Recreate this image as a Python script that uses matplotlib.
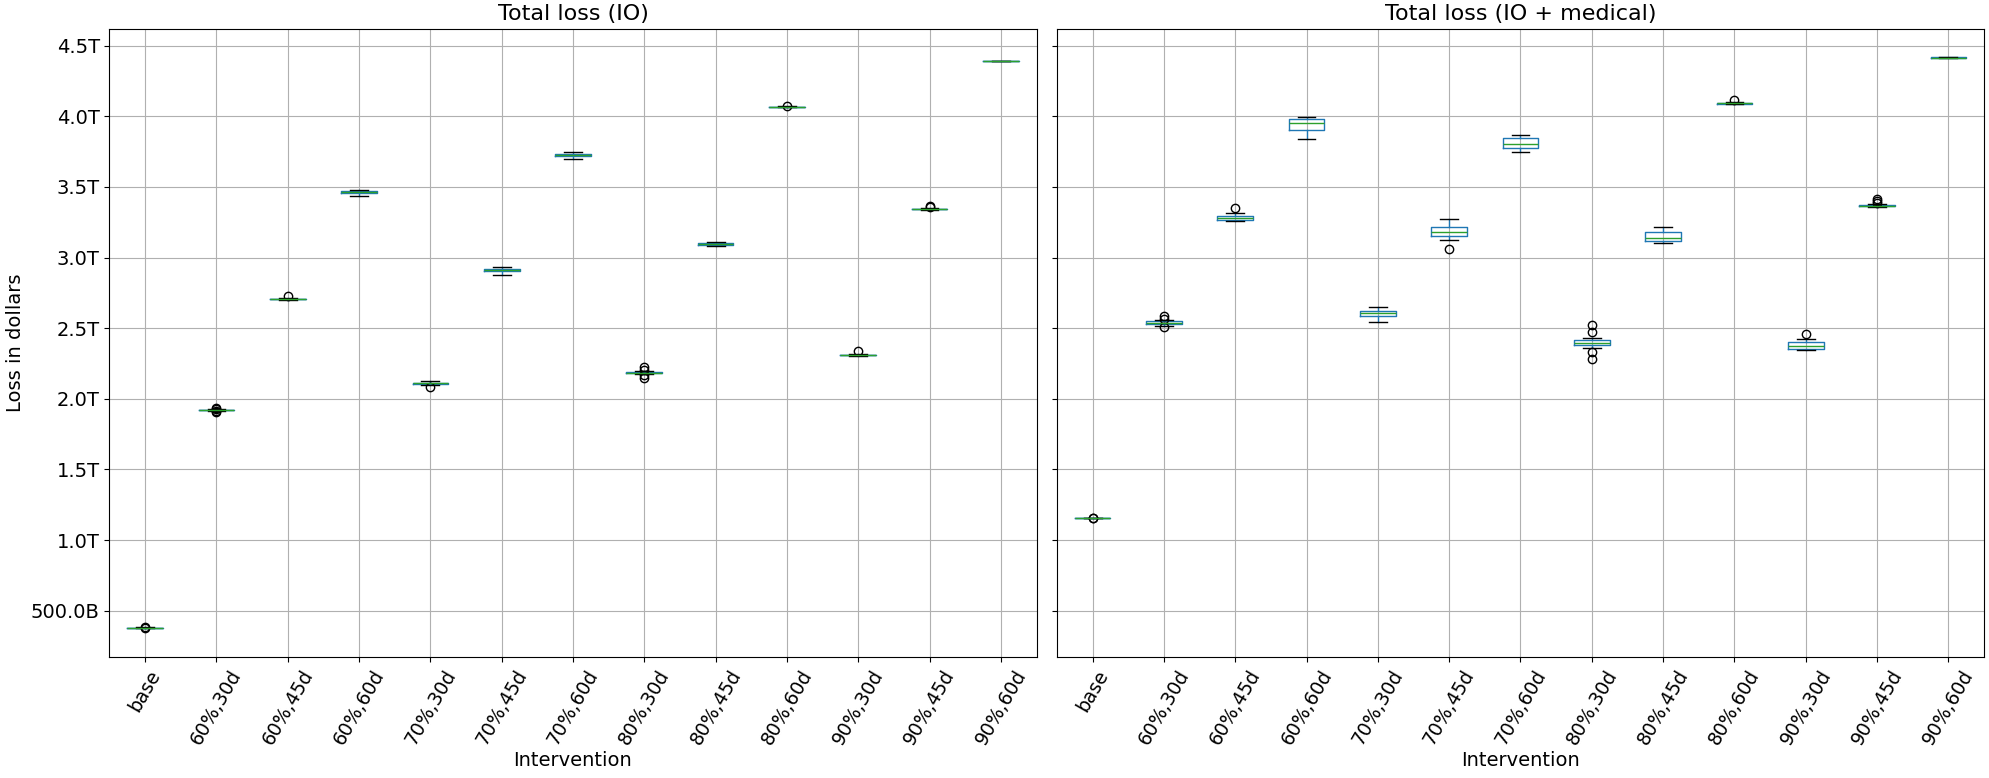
import matplotlib
matplotlib.use("Agg")
import matplotlib.pyplot as plt
from matplotlib.ticker import FuncFormatter

# ---- data (values in trillions of dollars) ----
labels = ["base", "60%,30d", "60%,45d", "60%,60d", "70%,30d", "70%,45d", "70%,60d",
          "80%,30d", "80%,45d", "80%,60d", "90%,30d", "90%,45d", "90%,60d"]

# Total loss (IO)
io_med = [0.380, 1.922, 2.705, 3.462, 2.110, 2.910, 3.725, 2.184, 3.096, 4.066, 2.310, 3.343, 4.392]
io_q1 = [0.379, 1.920, 2.703, 3.456, 2.107, 2.903, 3.719, 2.180, 3.091, 4.064, 2.307, 3.340, 4.391]
io_q3 = [0.381, 1.924, 2.707, 3.470, 2.114, 2.917, 3.731, 2.188, 3.101, 4.068, 2.313, 3.346, 4.393]
io_lo = [0.378, 1.917, 2.700, 3.432, 2.100, 2.874, 3.700, 2.172, 3.082, 4.062, 2.303, 3.336, 4.390]
io_hi = [0.382, 1.927, 2.711, 3.478, 2.127, 2.935, 3.745, 2.196, 3.108, 4.070, 2.318, 3.351, 4.394]
io_fl = [[0.383, 0.377], [1.910, 1.915, 1.930, 1.935], [2.728], [], [2.087], [], [],
         [2.228, 2.207, 2.165, 2.146], [], [4.069], [2.337], [3.362, 3.355], []]

# Total loss (IO + medical)
med_med = [1.156, 2.540, 3.283, 3.950, 2.604, 3.184, 3.806, 2.396, 3.141, 4.092, 2.375, 3.368, 4.415]
med_q1 = [1.155, 2.532, 3.267, 3.906, 2.585, 3.153, 3.773, 2.380, 3.117, 4.089, 2.356, 3.365, 4.414]
med_q3 = [1.157, 2.548, 3.295, 3.981, 2.618, 3.215, 3.848, 2.413, 3.179, 4.095, 2.399, 3.371, 4.416]
med_lo = [1.154, 2.518, 3.255, 3.840, 2.545, 3.123, 3.745, 2.358, 3.106, 4.085, 2.344, 3.360, 4.413]
med_hi = [1.158, 2.559, 3.314, 3.995, 2.653, 3.271, 3.870, 2.432, 3.214, 4.100, 2.422, 3.376, 4.417]
med_fl = [[1.153, 1.159], [2.587, 2.505, 2.565], [3.347], [], [], [3.059], [],
          [2.524, 2.476, 2.328, 2.280], [], [4.118], [2.462], [3.417, 3.400, 3.384], []]

SCALE = 1e12


def make_stats(med, q1, q3, lo, hi, fl):
    stats = []
    for i, lab in enumerate(labels):
        stats.append(dict(label=lab, med=med[i] * SCALE, q1=q1[i] * SCALE, q3=q3[i] * SCALE,
                          whislo=lo[i] * SCALE, whishi=hi[i] * SCALE,
                          fliers=[v * SCALE for v in fl[i]]))
    return stats


def human_fmt(x, pos):
    if abs(x) >= 1e12:
        return f"{x / 1e12:.1f}T"
    return f"{x / 1e9:.1f}B"


plt.rcParams["font.size"] = 14
plt.rcParams["xtick.labelsize"] = 13.5
plt.rcParams["ytick.labelsize"] = 14
plt.rcParams["axes.titlesize"] = 16

fig, axes = plt.subplots(1, 2, figsize=(19.9, 7.78), dpi=100, sharey=True)
fig.subplots_adjust(left=0.055, right=0.997, top=0.963, bottom=0.156, wspace=0.022)

panels = [("Total loss (IO)", make_stats(io_med, io_q1, io_q3, io_lo, io_hi, io_fl)),
          ("Total loss (IO + medical)", make_stats(med_med, med_q1, med_q3, med_lo, med_hi, med_fl))]

for ax, (title, stats) in zip(axes, panels):
    ax.bxp(stats, widths=0.5,
           boxprops=dict(color="#1f77b4"),
           whiskerprops=dict(color="#1f77b4"),
           capprops=dict(color="k"),
           medianprops=dict(color="#2ca02c"),
           flierprops=dict(marker="o", markeredgecolor="k", markerfacecolor="none"))
    ax.set_title(title)
    ax.set_xlabel("Intervention", labelpad=2)
    ax.grid(True)
    ax.tick_params(axis="x", labelrotation=60)

axes[0].yaxis.set_major_formatter(FuncFormatter(human_fmt))
axes[0].set_ylabel("Loss in dollars")

fig.savefig("out.png")
